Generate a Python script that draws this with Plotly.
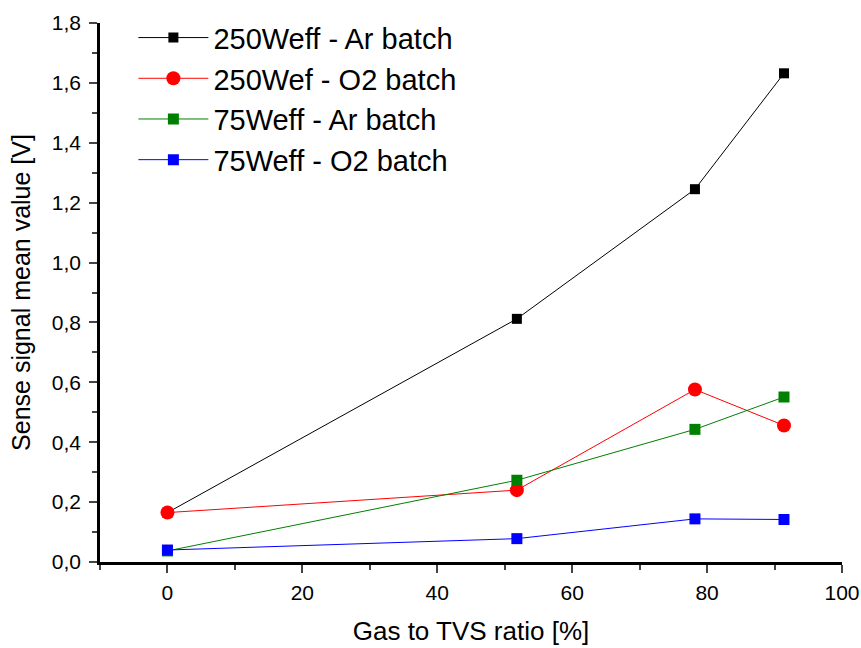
import plotly.graph_objects as go

x_vals = [0, 51.8, 78.2, 91.4]
ar250 = [0.165, 0.812, 1.245, 1.632]
o2_250 = [0.165, 0.240, 0.576, 0.456]
ar75 = [0.037, 0.273, 0.443, 0.551]
o2_75 = [0.040, 0.078, 0.144, 0.142]

names = ["250Weff - Ar batch", "250Wef - O2 batch", "75Weff - Ar batch", "75Weff - O2 batch"]
series = [ar250, o2_250, ar75, o2_75]
colors = ["black", "red", "green", "blue"]
symbols = ["square", "circle", "square", "square"]
sizes = [10, 14, 11, 11]

fig = go.Figure()
for n, s, c, sym, sz in zip(names, series, colors, symbols, sizes):
    fig.add_trace(go.Scatter(x=x_vals, y=s, name=n, mode="lines+markers",
                             line=dict(color=c, width=1),
                             marker=dict(color=c, symbol=sym, size=sz)))

font = "Liberation Sans, Arial, sans-serif"
fig.update_layout(
    width=861, height=648,
    margin=dict(l=100, r=19, t=17, b=86),
    plot_bgcolor="white", paper_bgcolor="white",
    separators=",.",
    font=dict(family=font, color="black"),
    legend=dict(x=0.045, y=1.02, xanchor="left", yanchor="top",
                font=dict(size=29, family=font), bgcolor="rgba(0,0,0,0)",
                tracegroupgap=0, itemwidth=70),
    xaxis=dict(range=[-10, 100], tickvals=[0, 20, 40, 60, 80, 100], automargin=False,
               ticks="outside", ticklen=8, tickwidth=2, linewidth=2.5, linecolor="black",
               showgrid=False, zeroline=False, tickfont=dict(size=21), ticklabelstandoff=2,
               minor=dict(ticks="outside", ticklen=5, tickwidth=2, dtick=10, tick0=0, showgrid=False),
               title=dict(text="Gas to TVS ratio [%]", font=dict(size=26), standoff=19)),
    yaxis=dict(range=[0, 1.8], dtick=0.2, tickformat=".1f", automargin=False,
               ticks="outside", ticklen=8, tickwidth=2, linewidth=2.5, linecolor="black",
               showgrid=False, zeroline=False, tickfont=dict(size=21), ticklabelstandoff=4,
               minor=dict(ticks="outside", ticklen=5, tickwidth=2, dtick=0.1, showgrid=False),
               title=dict(text="Sense signal mean value [V]", font=dict(size=25), standoff=15)),
)
fig.write_html("out.html")
